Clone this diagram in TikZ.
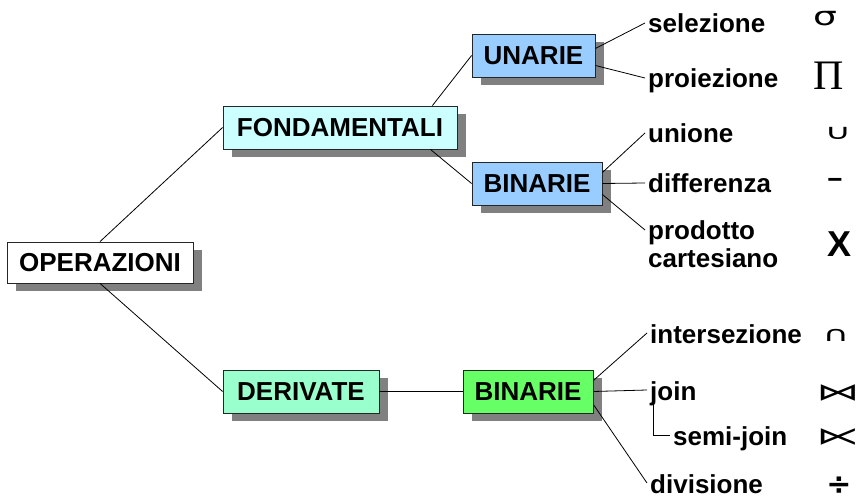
\documentclass[tikz,border=0pt]{standalone}
\usepackage{fontspec}
\usepackage{graphicx}
\setmainfont{Liberation Sans}
\newfontfamily\symserif{Liberation Serif}
\newfontfamily\symsans{DejaVu Sans}
\usetikzlibrary{shadows}
\definecolor{fondfill}{HTML}{CCFFFF}
\definecolor{unfill}{HTML}{99CCFF}
\definecolor{derfill}{HTML}{99FFCC}
\definecolor{binfill}{HTML}{66FF66}
\definecolor{shadowgray}{HTML}{808080}
\begin{document}
\begin{tikzpicture}[x=1pt,y=-1pt,
  box/.style={draw=black!85, line width=0.8pt, inner sep=0pt, minimum height=43pt,
    font=\fontsize{26}{30}\selectfont\bfseries,
    drop shadow={shadow xshift=9pt, shadow yshift=-8pt, fill=shadowgray, opacity=1}},
  term/.style={anchor=base west, inner xsep=3pt, inner ysep=0pt, text height=24pt,
    text depth=4pt, font=\fontsize{26}{30}\selectfont\bfseries},
  link/.style={line width=0.8pt, black},
  sym/.style={inner sep=0pt, anchor=center}]
\useasboundingbox (0,0) rectangle (864,502);

% boxes of the tree
\node[box, fill=white, minimum width=186pt, minimum height=41pt] (op) at (100,262.5) {OPERAZIONI};
\node[box, fill=fondfill, minimum width=234pt] (fond) at (340,127.5) {FONDAMENTALI};
\node[box, fill=unfill, minimum width=123pt] (un) at (533.5,55.5) {UNARIE};
\node[box, fill=unfill, minimum width=130pt] (bin) at (537,183.5) {BINARIE};
\node[box, fill=derfill, minimum width=156pt] (der) at (301,391.5) {DERIVATE};
\node[box, fill=binfill, minimum width=130pt] (bind) at (528,391.5) {BINARIE};

% operation names
\node[term] (sel) at (645,33) {selezione};
\node[term] (proi) at (645,88) {proiezione};
\node[term] (uni) at (645,143) {unione};
\node[term] (diff) at (645,193) {differenza};
\node[term] (prod) at (645,240) {prodotto};
\node[term] (cart) at (645,268) {cartesiano};
\node[term] (inter) at (647,343) {intersezione};
\node[term] (join) at (647,400) {join};
\node[term] (semi) at (670,445) {semi-join};
\node[term] (div) at (647,493) {divisione};

% operator symbols
\node[sym, font=\symsans\fontsize{26}{26}\selectfont] (ssel) at (825,19) {\scalebox{1.45}[1]{σ}};
\node[sym, font=\symserif\fontsize{42}{42}\selectfont] (sproi) at (829,76) {Π};
\node[sym, font=\symsans\fontsize{28}{28}\selectfont] (suni) at (838,133) {\scalebox{1.3}[0.75]{∪}};
\node[sym, font=\bfseries\fontsize{26}{26}\selectfont] (sdiff) at (835,183) {−};
\node[sym, font=\bfseries\fontsize{36}{36}\selectfont] (sprod) at (839,244) {X};
\node[sym, font=\symsans\fontsize{28}{28}\selectfont] (sinter) at (836,335) {\scalebox{1.3}[0.75]{∩}};
\node[sym, font=\symsans\fontsize{24}{24}\selectfont] (sjoin) at (838,393) {\scalebox{1.8}[1]{⋈}};
\node[sym, font=\symsans\fontsize{24}{24}\selectfont] (ssemi) at (838,437) {\scalebox{1.8}[1]{⋉}};
\node[sym, font=\symsans\bfseries\fontsize{30}{30}\selectfont] (sdiv) at (839,486) {÷};

% connectors
\draw[link] (op.north) -- (fond.west);
\draw[link] (op.south) -- (der.west);
\draw[link] ([xshift=-25pt]fond.north east) -- (un.west);
\draw[link] ([xshift=-27pt]fond.south east) -- (bin.west);
\draw[link] ([yshift=7pt]un.east) -- (sel.west);
\draw[link] ([yshift=-10pt]un.east) -- (proi.west);
\draw[link] ([yshift=11pt]bin.east) -- (uni.west);
\draw[link] (bin.east) -- (diff.west);
\draw[link] ([yshift=-11pt]bin.east) -- (prod.west);
\draw[link] (der.east) -- (bind.west);
\draw[link] ([yshift=11pt]bind.east) -- (inter.west);
\draw[link] (bind.east) -- (join.west);
\draw[link] ([yshift=-13pt]bind.east) -- (div.west);
\draw[link] ([xshift=6pt]join.south west) |- (semi.west);
\end{tikzpicture}
\end{document}
